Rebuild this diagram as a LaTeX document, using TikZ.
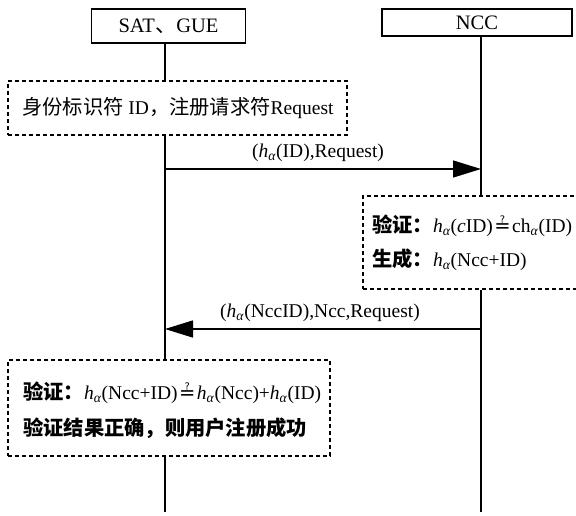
\documentclass[tikz,border=0pt]{standalone}
\usepackage{fontspec}
\setmainfont{Liberation Serif}
\newfontfamily\cjk[Scale=1.04]{Noto Sans CJK SC}
\newfontfamily\symfont{DejaVu Sans}
\usetikzlibrary{arrows.meta}
\newcommand\hal{\textit{h}\textsubscript{\textit{α}}}
\newcommand\qeq{\kern1.5pt{\symfont ≟}\kern1.5pt}
\begin{document}
\begin{tikzpicture}[x=1pt,y=-1pt,
  every node/.style={font=\fontsize{19.5}{23}\selectfont},
  actor/.style={draw,line width=1.8pt,inner sep=0pt,font=\fontsize{20.5}{24}\selectfont},
  notebox/.style={draw,line width=1.9pt,dash pattern=on 4pt off 3pt,inner sep=0pt},
  txt/.style={anchor=west,inner sep=0pt},
  life/.style={line width=1.2pt},
  msg/.style={line width=1.4pt,-{Triangle[length=28pt,width=17pt]}},
  lbl/.style={inner sep=0pt}]
\useasboundingbox (0,0) rectangle (576,515);
\clip (0,0) rectangle (576,515);

% lifeline x positions
\coordinate (satx) at (165,512);
\coordinate (nccx) at (481,512);

% actor boxes
\node[actor,minimum width=154pt,minimum height=34pt] (sat) at (168.5,26) {SAT{\cjk 、}GUE};
\node[actor,minimum width=190pt,minimum height=27pt] (ncc) at (477,22.5) {NCC};

% note boxes
\node[notebox,minimum width=339pt,minimum height=54pt] (box1) at (177.5,108) {};
\node[notebox,minimum width=227pt,minimum height=93pt] (box2) at (476.5,242.5) {};
\node[notebox,minimum width=322pt,minimum height=96pt] (box3) at (169,408) {};

% note texts
\node[txt] (t1) at (22,108) {{\cjk 身份标识符} ID{\cjk ，注册请求符}Request};
\node[txt] (t2) at (372,226) {{\cjk\bfseries 验证：}\hal(\textit{c}ID)\qeq ch\textsubscript{\textit{α}}(ID)};
\node[txt] (t3) at (372,260) {{\cjk\bfseries 生成：}\hal(Ncc+ID)};
\node[txt] (t4) at (23,393) {{\cjk\bfseries 验证：}\hal(Ncc+ID)\qeq\hal(Ncc)+\hal(ID)};
\node[txt] (t5) at (23,428) {{\cjk\bfseries 验证结果正确，则用户注册成功}};

% lifelines
\draw[life] (sat.south -| satx) -- (box1.north -| satx);
\draw[life] (box1.south -| satx) -- (box3.north -| satx);
\draw[life] (box3.south -| satx) -- (satx);
\draw[life] (ncc.south -| nccx) -- (box2.north -| nccx);
\draw[life] (box2.south -| nccx) -- (nccx);

% messages
\coordinate (m1) at (318,169);
\coordinate (m2) at (320,329);
\draw[msg] (m1 -| satx) -- (m1 -| nccx);
\node[lbl] (l1) at (318,153) {(\hal(ID),Request)};
\draw[msg] (m2 -| nccx) -- (m2 -| satx);
\node[lbl] (l2) at (320,313) {(\hal(NccID),Ncc,Request)};
\end{tikzpicture}
\end{document}
